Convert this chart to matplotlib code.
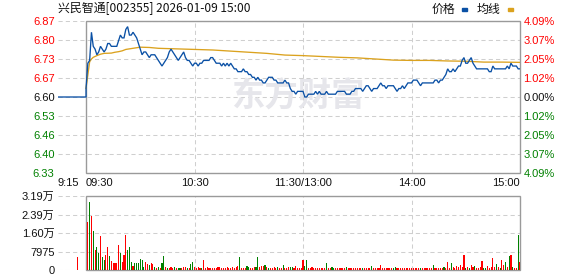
import matplotlib
matplotlib.use("Agg")
import matplotlib.pyplot as plt
import matplotlib.transforms as mtransforms
from matplotlib.patches import Rectangle
import numpy as np

plt.rcParams['font.family'] = ['Liberation Sans', 'Noto Sans CJK SC', 'DejaVu Sans']

# ---------------- data ----------------
title = "兴民智通[002355] 2026-01-09 15:00"
legend_labels = ["价格", "均线"]
prev_close = 6.60

price_tick_labels = ["6.87", "6.80", "6.73", "6.67", "6.60", "6.53", "6.46", "6.40", "6.33"]
pct_tick_labels = ["4.09%", "3.07%", "2.05%", "1.02%", "0.00%", "1.02%", "2.05%", "3.07%", "4.09%"]
vol_tick_values = [0, 7975, 15950, 23925, 31900]
vol_tick_labels = ["0", "7975", "1.60万", "2.39万", "3.19万"]

time_tick_min = [-15.5, 0, 60, 120, 180, 240]
time_tick_labels = ["9:15", "09:30", "10:30", "11:30/13:00", "14:00", "15:00"]

# pre-market (9:15-9:30) flat line at previous close, auction volume
pre_min = [-15.5, 0]
pre_price = [6.60, 6.60]
auction_min = [-4.5]
auction_vol = [5460]

# minute prices 9:30 (0) ... 15:00 (240)
price = [
    6.63,
    6.72, 6.73, 6.83, 6.78, 6.77, 6.75, 6.76, 6.78, 6.77, 6.76,
    6.77, 6.79, 6.79, 6.78, 6.78, 6.78, 6.78, 6.80, 6.82, 6.81,
    6.81, 6.84, 6.85, 6.82, 6.82, 6.83, 6.82, 6.81, 6.79, 6.77,
    6.75, 6.76, 6.76, 6.75, 6.74, 6.75, 6.75, 6.75, 6.74, 6.73,
    6.72, 6.71, 6.72, 6.73, 6.74, 6.76, 6.77, 6.76, 6.75, 6.74,
    6.73, 6.74, 6.75, 6.76, 6.74, 6.73, 6.73, 6.72, 6.71, 6.72,
    6.72, 6.71, 6.72, 6.72, 6.73, 6.73, 6.73, 6.73, 6.74, 6.74,
    6.73, 6.72, 6.72, 6.72, 6.71, 6.72, 6.71, 6.72, 6.71, 6.72,
    6.71, 6.70, 6.70, 6.69, 6.69, 6.69, 6.70, 6.69, 6.69, 6.68,
    6.68, 6.67, 6.67, 6.66, 6.67, 6.66, 6.66, 6.65, 6.65, 6.66,
    6.67, 6.67, 6.67, 6.66, 6.66, 6.65, 6.65, 6.65, 6.65, 6.66,
    6.65, 6.65, 6.63, 6.62, 6.62, 6.61, 6.62, 6.62, 6.62, 6.62,
    6.60, 6.60, 6.61, 6.61, 6.61, 6.61, 6.62, 6.61, 6.62, 6.61,
    6.61, 6.61, 6.62, 6.61, 6.61, 6.61, 6.61, 6.61, 6.62, 6.62,
    6.62, 6.62, 6.62, 6.61, 6.61, 6.61, 6.62, 6.62, 6.63, 6.63,
    6.63, 6.63, 6.62, 6.63, 6.64, 6.64, 6.63, 6.62, 6.63, 6.63,
    6.63, 6.64, 6.65, 6.64, 6.64, 6.63, 6.64, 6.64, 6.64, 6.64,
    6.63, 6.62, 6.63, 6.63, 6.64, 6.63, 6.64, 6.65, 6.65, 6.65,
    6.66, 6.66, 6.66, 6.65, 6.64, 6.65, 6.65, 6.65, 6.65, 6.65,
    6.65, 6.65, 6.66, 6.66, 6.65, 6.66, 6.66, 6.67, 6.68, 6.70,
    6.69, 6.69, 6.70, 6.69, 6.70, 6.71, 6.71, 6.73, 6.74, 6.72,
    6.72, 6.73, 6.74, 6.72, 6.71, 6.70, 6.70, 6.70, 6.70, 6.70,
    6.70, 6.70, 6.69, 6.69, 6.71, 6.70, 6.70, 6.70, 6.70, 6.70,
    6.70, 6.70, 6.71, 6.70, 6.72, 6.71, 6.71, 6.71, 6.70, 6.70,
]

# average price line, read at these minutes
avg_min = [0, 1, 2, 3, 4, 6, 8, 10, 14, 16, 18, 20, 22, 24, 26, 28, 30, 35, 40, 50,
           60, 70, 80, 90, 100, 110, 120, 130, 140, 150, 160, 170, 180, 190, 200,
           210, 220, 230, 240]
avg_val = [6.631, 6.678, 6.725, 6.735, 6.741, 6.747, 6.752, 6.755, 6.756, 6.759,
           6.761, 6.764, 6.769, 6.771, 6.773, 6.775, 6.777, 6.776, 6.773, 6.771,
           6.769, 6.767, 6.763, 6.759, 6.755, 6.749, 6.747, 6.744, 6.741, 6.739,
           6.735, 6.731, 6.730, 6.730, 6.728, 6.727, 6.724, 6.724, 6.723]

# minute volumes 9:31 (1) ... 15:00 (240)
volume = [
    20840, 29460, 23280, 16810, 8620, 9770, 7470, 14660, 5750, 4310,
    6470, 9770, 6040, 3740, 2870, 3160, 3160, 10780, 7190, 3590,
    6470, 15090, 8620, 9770, 3590, 1720, 2870, 3160, 3160, 4600,
    4310, 1150, 3590, 2590, 2160, 2870, 2440, 1150, 720, 1150,
    720, 2870, 6040, 1150, 720, 720, 1150, 720, 1150, 720,
    720, 720, 720, 1150, 1150, 860, 720, 2590, 3590, 1440,
    720, 1150, 720, 860, 4310, 720, 1150, 860, 720, 720,
    720, 720, 1150, 1150, 720, 860, 720, 1150, 720, 860,
    1150, 720, 1150, 1720, 5460, 720, 720, 720, 1720, 1150,
    720, 860, 1150, 1150, 5460, 1440, 1720, 1720, 2160, 1150,
    720, 720, 720, 1150, 720, 1150, 720, 720, 2160, 720,
    720, 1150, 1150, 1150, 720, 1720, 720, 720, 720, 4310,
    1720, 4310, 720, 720, 1150, 720, 720, 720, 720, 720,
    720, 720, 2870, 720, 720, 1150, 720, 720, 720, 720,
    720, 720, 720, 1150, 720, 720, 720, 720, 720, 720,
    720, 720, 720, 720, 720, 720, 720, 1720, 720, 720,
    720, 720, 2160, 720, 720, 720, 720, 720, 720, 720,
    1150, 720, 720, 720, 720, 720, 720, 720, 720, 720,
    720, 720, 720, 720, 720, 720, 720, 720, 720, 720,
    720, 2160, 720, 720, 720, 720, 720, 1150, 720, 3590,
    720, 2870, 1150, 720, 1720, 1150, 2160, 1150, 6470, 720,
    1150, 720, 2160, 1150, 1720, 720, 720, 1150, 3880, 720,
    720, 1720, 720, 1150, 5170, 1150, 2590, 1150, 720, 4310,
    2160, 3590, 1150, 6040, 6470, 1150, 720, 720, 15090, 3590,
]
volume_dir = "".join([
    "rgrgrggrgg", "rrgrrrrrgr", "rrgggrgggg", "ggrrgrrgrg", "rggrgrrrgr",
    "ggrrrgrggr", "rrrgrrrrrr", "rrrrrrrrrr", "rrrrgrrrgg", "rrrggrrrgr",
    "grrrrgrrgr", "rrggrrrrrr", "ggrrrrrrrr", "rrgrrggrrr", "rrrgrrrrrr",
    "rrgrrrrgrr", "rrrrrrrrrg", "grrrrrrrrr", "rrrrgrrrrr", "rgrrrrrgrr",
    "rgrrrrrrrg", "rgrrgrrrrg", "grrrrrgrgr", "rgrgrgrrgr",
])

# ---------------- styling ----------------
W, H = 578, 276
RED = "#ff0000"
GREEN = "#008000"
BLUE = "#0a50a5"
GOLD = "#dba21e"
GRID = "#cfcfcf"
FRAME = "#9a9a9a"
X0, X1 = -15.5, 240

fig = plt.figure(figsize=(W / 100, H / 100), dpi=100)
ax = fig.add_axes([58 / W, 1 - 173 / H, 462 / W, 152 / H])
axv = fig.add_axes([58 / W, 1 - 270 / H, 462 / W, 74 / H])

p_lo, p_hi = float(price_tick_labels[-1]), float(price_tick_labels[0])
price_pos = np.linspace(p_hi, p_lo, len(price_tick_labels))

minutes = np.arange(len(price))
vol_min = np.arange(1, len(volume) + 1)

for a in (ax, axv):
    a.set_xlim(X0, X1)
    for s in a.spines.values():
        s.set_visible(False)
    a.set_facecolor("white")

grid_kw = dict(color=GRID, lw=0.75, ls=(0, (4, 3)), zorder=0.5)

# ---- price panel ----
ax.set_ylim(p_lo, p_hi)
for yv in price_pos:
    ax.axhline(yv, **grid_kw)
for xv in time_tick_min[2:5]:
    ax.axvline(xv, **grid_kw)
ax.add_patch(Rectangle((0, 0), X1, 1, transform=mtransforms.blended_transform_factory(ax.transData, ax.transAxes),
                       fill=False, ec=FRAME, lw=1.0, zorder=1, clip_on=False))

ax.text(0.52, 0.50, "东方财富", transform=ax.transAxes, ha="center", va="center",
        fontsize=24, color="#e6e6eb", fontweight="bold",
        family=["Noto Sans CJK SC"], zorder=0.6)

ax.plot(list(pre_min) + list(minutes), list(pre_price) + list(price),
        color=BLUE, lw=0.95, zorder=3, solid_joinstyle="miter")
ax.plot(avg_min, avg_val, color=GOLD, lw=0.95, zorder=2.5)

ax.set_yticks(price_pos)
ax.set_yticklabels(price_tick_labels)
ax.tick_params(axis="y", length=0, pad=2.5, labelsize=8)
for lab, txt in zip(ax.get_yticklabels(), price_tick_labels):
    v = float(txt)
    lab.set_color(RED if v > prev_close else (GREEN if v < prev_close else "#111111"))

ax2 = ax.twinx()
ax2.set_ylim(p_lo, p_hi)
for s in ax2.spines.values():
    s.set_visible(False)
ax2.set_yticks(price_pos)
ax2.set_yticklabels(pct_tick_labels)
ax2.tick_params(axis="y", length=0, pad=2.5, labelsize=8)
for i, lab in enumerate(ax2.get_yticklabels()):
    mid = len(pct_tick_labels) // 2
    lab.set_color(RED if i < mid else (GREEN if i > mid else "#111111"))

ax.set_xticks(time_tick_min)
ax.set_xticklabels(time_tick_labels)
ax.tick_params(axis="x", length=0, pad=3.5, labelsize=8, labelcolor="#111111")
xl = ax.get_xticklabels()
xl[0].set_ha("left")
xl[1].set_ha("left")
xl[-1].set_ha("right")

# ---- volume panel ----
axv.set_ylim(0, vol_tick_values[-1])
for yv in vol_tick_values:
    axv.axhline(yv, **grid_kw)
for xv in time_tick_min[2:5]:
    axv.axvline(xv, **grid_kw)
axv.add_patch(Rectangle((0, 0), X1, 1, transform=mtransforms.blended_transform_factory(axv.transData, axv.transAxes),
                        fill=False, ec=FRAME, lw=1.0, zorder=1, clip_on=False))
bar_colors = [RED if c == "r" else GREEN for c in volume_dir]
axv.bar(vol_min, volume, width=0.62, color=bar_colors, linewidth=0, zorder=2)
axv.bar(auction_min, auction_vol, width=0.62, color=RED, linewidth=0, zorder=2)
axv.set_xticks([])
axv.set_yticks(vol_tick_values)
axv.set_yticklabels(vol_tick_labels)
axv.tick_params(axis="y", length=0, pad=2.5, labelsize=8, labelcolor="#111111")

# ---- title & legend ----
fig.text(58 / W, 1 - 9 / H, title, ha="left", va="center", fontsize=8.6,
         family=["Noto Sans CJK SC", "DejaVu Sans"], color="#111111")
fig.text(443 / W, 1 - 9 / H, legend_labels[0], ha="center", va="center", fontsize=8.6,
         family=["Noto Sans CJK SC"], color="#111111")
fig.text(488 / W, 1 - 9 / H, legend_labels[1], ha="center", va="center", fontsize=8.6,
         family=["Noto Sans CJK SC"], color="#111111")
fig.patches.append(Rectangle((462 / W, 1 - 11 / H), 5 / W, 3 / H, transform=fig.transFigure,
                             color=BLUE, figure=fig))
fig.patches.append(Rectangle((508 / W, 1 - 11 / H), 5 / W, 3 / H, transform=fig.transFigure,
                             color=GOLD, figure=fig))

fig.savefig("out.png", dpi=100)
